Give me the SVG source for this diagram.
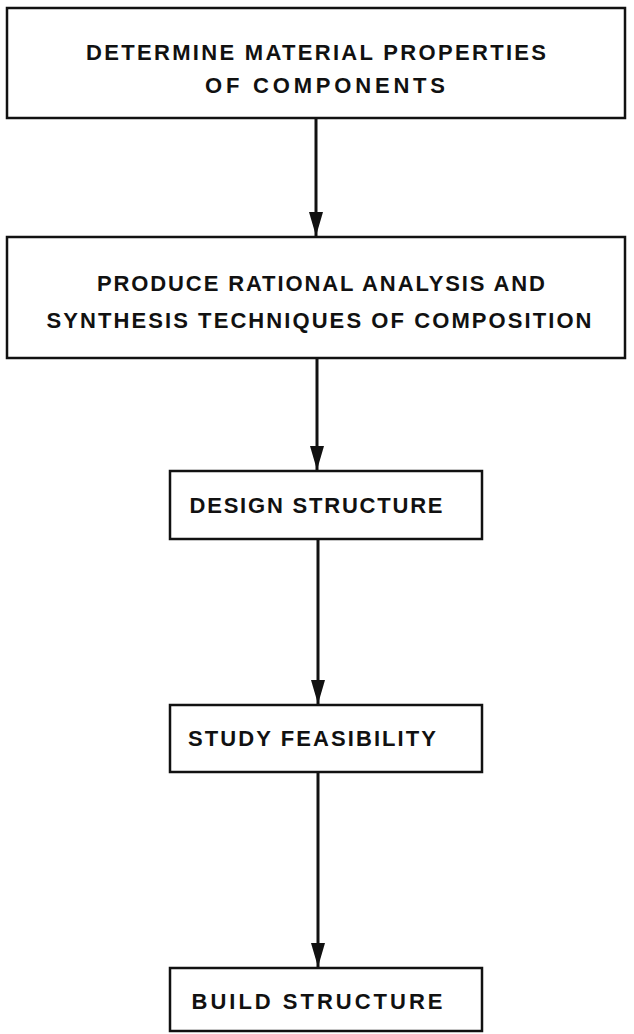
<svg xmlns="http://www.w3.org/2000/svg" width="634" height="1034" viewBox="0 0 634 1034" xml:space="preserve">
<style>
.box{fill:none;stroke:#111;stroke-width:2.5}
.t{font-family:"Liberation Sans",Arial,sans-serif;font-size:22px;font-weight:bold;fill:#111;text-anchor:middle}
.c{stroke:#111;stroke-width:3;fill:none}
</style>
<defs>
<marker id="ah" markerUnits="userSpaceOnUse" markerWidth="24" markerHeight="14" refX="24" refY="7" orient="auto" viewBox="0 0 24 14">
<path d="M0,0 L24,7 L0,14 Z" fill="#111"/>
</marker>
</defs>
<rect width="634" height="1034" fill="#fff"/>
<g id="n1">
<rect class="box" x="7" y="8" width="618" height="110"/>
<text class="t" x="316" y="60" textLength="460" lengthAdjust="spacing">DETERMINE MATERIAL  PROPERTIES</text>
<text class="t" x="325" y="93" textLength="240" lengthAdjust="spacing">OF COMPONENTS</text>
</g>
<g id="n2">
<rect class="box" x="7" y="237" width="618" height="121"/>
<text class="t" x="321" y="291" textLength="448" lengthAdjust="spacing">PRODUCE RATIONAL ANALYSIS  AND</text>
<text class="t" x="319" y="328" textLength="545" lengthAdjust="spacing">SYNTHESIS TECHNIQUES OF COMPOSITION</text>
</g>
<g id="n3">
<rect class="box" x="170" y="471" width="312" height="68"/>
<text class="t" x="316" y="513" textLength="253" lengthAdjust="spacing">DESIGN STRUCTURE</text>
</g>
<g id="n4">
<rect class="box" x="170" y="705" width="312" height="67"/>
<text class="t" x="312" y="746" textLength="248" lengthAdjust="spacing">STUDY FEASIBILITY</text>
</g>
<g id="n5">
<rect class="box" x="170" y="968" width="312" height="63"/>
<text class="t" x="317" y="1009" textLength="251" lengthAdjust="spacing">BUILD   STRUCTURE</text>
</g>
<g id="connectors">
<line class="c" x1="316" y1="118" x2="316" y2="236" marker-end="url(#ah)"/>
<line class="c" x1="317" y1="358" x2="317" y2="470" marker-end="url(#ah)"/>
<line class="c" x1="318" y1="539" x2="318" y2="704" marker-end="url(#ah)"/>
<line class="c" x1="318" y1="772" x2="318" y2="967" marker-end="url(#ah)"/>
</g>
</svg>
